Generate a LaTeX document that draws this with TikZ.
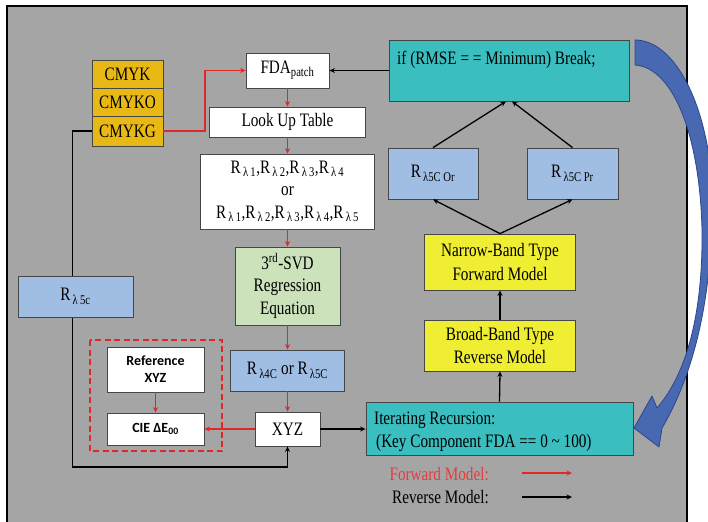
\documentclass[tikz,border=0pt]{standalone}
\usepackage{fontspec}
\setmainfont{Liberation Serif}[FakeStretch=0.8]
\newfontfamily\calib{Carlito}
\usetikzlibrary{arrows.meta,calc}
\definecolor{bggray}{RGB}{165,165,165}
\definecolor{edgegray}{RGB}{70,70,70}
\definecolor{gold}{RGB}{232,185,20}
\definecolor{lgreen}{RGB}{204,226,186}
\definecolor{lblue}{RGB}{160,190,228}
\definecolor{teal2}{RGB}{58,190,192}
\definecolor{yel}{RGB}{240,238,50}
\definecolor{fwdred}{RGB}{225,40,40}
\definecolor{legred}{RGB}{230,60,60}
\definecolor{barrow}{RGB}{72,104,178}
\definecolor{bedge}{RGB}{45,70,140}
\newcommand\Rs[1]{R\textsubscript{\,#1}}
\newcommand\mainsz{\fontsize{19}{22}\selectfont}
\tikzset{
  box/.style={draw=edgegray, line width=0.8pt, inner sep=0pt, align=center, font=\mainsz},
  fwd/.style={draw=fwdred, line width=1.9pt, -{Stealth[length=5.5pt,width=5pt]}},
  rev/.style={draw=black, line width=1.3pt, -{Stealth[length=5.5pt,width=5pt]}},
  sbox/.style={draw=edgegray, line width=0.8pt, fill=white, inner sep=0pt, align=center,
    font=\calib\bfseries\fontsize{14}{17}\selectfont},
}
\begin{document}
\begin{tikzpicture}[x=1pt,y=-1pt]
\useasboundingbox (0,0) rectangle (708,521);
\clip (0,0) rectangle (708,521);
\fill[white] (0,0) rectangle (708,521);
\draw[fill=bggray, line width=1.2pt] (7,6) rectangle (687,540);

% left column
\node[box, fill=gold, minimum width=71pt, minimum height=28pt] (cmyk) at (127.5,74) {CMYK};
\node[box, fill=gold, minimum width=71pt, minimum height=28pt] (cmyko) at (127.5,102) {CMYKO};
\node[box, fill=gold, minimum width=71pt, minimum height=30pt] (cmykg) at (127.5,131) {CMYKG};

% centre column
\node[box, fill=white, minimum width=83pt, minimum height=35pt] (fda) at (287.5,70.5) {FDA\textsubscript{patch}};
\node[box, fill=white, minimum width=156pt, minimum height=30pt] (lut) at (287.5,122) {Look Up Table};
\node[box, fill=white, minimum width=174pt, minimum height=75pt, font=\fontsize{19}{22.5}\selectfont] (rl) at (287.5,191.5)
  {\Rs{λ\,1},\Rs{λ\,2},\Rs{λ\,3},\Rs{λ\,4}\\or\\\Rs{λ\,1},\Rs{λ\,2},\Rs{λ\,3},\Rs{λ\,4},\Rs{λ\,5}};
\node[box, fill=lgreen, minimum width=105pt, minimum height=78pt, font=\fontsize{19}{22.5}\selectfont] (svd) at (287.5,286)
  {3\textsuperscript{rd}-SVD\\Regression\\Equation};
\node[box, fill=lblue, minimum width=114pt, minimum height=41pt] (r4c) at (287.5,370.5) {\Rs{λ4C} or \Rs{λ5C}};
\node[box, fill=white, minimum width=65pt, minimum height=34pt] (xyz) at (287.5,429) {XYZ};

% dashed group
\draw[fwdred, line width=1.5pt, dash pattern=on 6pt off 3.5pt] (90,340) rectangle (222,451);
\node[sbox, minimum width=97pt, minimum height=45pt] (ref) at (155.5,369.5) {Reference\\XYZ};
\node[sbox, minimum width=97pt, minimum height=32pt] (cie) at (155.5,429) {CIE ΔE\textsubscript{00}};

% right column
\node[box, fill=teal2, minimum width=240pt, minimum height=61pt] (ifb) at (509,70.5) {};
\node[anchor=west, inner sep=0pt, font=\mainsz] (iftxt) at (397,60) {if (RMSE = = Minimum) Break;};
\node[box, fill=lblue, minimum width=90pt, minimum height=51pt] (ror) at (433,173.5) {\Rs{λ5C Or}};
\node[box, fill=lblue, minimum width=91pt, minimum height=51pt] (rpr) at (572.5,173.5) {\Rs{λ5C Pr}};
\node[box, fill=yel, minimum width=151pt, minimum height=56pt, font=\fontsize{19}{23}\selectfont] (nb) at (500,262) {Narrow-Band Type\\Forward Model};
\node[box, fill=yel, minimum width=151pt, minimum height=51pt, font=\fontsize{19}{23}\selectfont] (bb) at (500,345.5) {Broad-Band Type\\Reverse Model};
\node[box, fill=teal2, minimum width=267pt, minimum height=53pt] (itr) at (499.5,428.5) {};
\node[anchor=west, inner sep=0pt, align=left, font=\fontsize{19}{23}\selectfont] (itrtxt) at (374,431.5)
  {Iterating Recursion:\\\hspace{2pt}(Key Component FDA == 0 \textasciitilde{} 100)};

% forward (red) connectors
\draw[fwd] (cmykg.east) -- ++(42,0) |- (fda.west);
\draw[fwd] (fda.south) -- (lut.north);
\draw[fwd] (lut.south) -- (rl.north);
\draw[fwd] (rl.south) -- (svd.north);
\draw[fwd] (svd.south) -- (r4c.north);
\draw[fwd] (r4c.south) -- (xyz.north);
\draw[fwd] (xyz.west) -- (cie.east);
\draw[fwd] (ref.south) -- (cie.north);

% reverse (black) connectors
\draw[rev] (ifb.west |- fda.east) -- (fda.east);
\draw[rev] (cmykg.west) -- ++(-19,0) -- ++(0,336) -| (xyz.south);
\node[box, fill=lblue, minimum width=115pt, minimum height=41pt] (r5c) at (75.5,296.5) {\Rs{λ\,5c}};
\draw[rev] (xyz.east) -- (xyz.east -| itr.west);
\draw[rev] (itr.north) -- (bb.south);
\draw[rev] (bb.north) -- (nb.south);
\draw[rev] (nb.north) -- (ror.south);
\draw[rev] (nb.north) -- (rpr.south);
\draw[rev] (ror.north) -- ($(ifb.south)+(-3,0)$);
\draw[rev] (rpr.north) -- ($(ifb.south)+(3,0)$);

% legend
\node[anchor=east, inner sep=0pt, text=legred, font=\mainsz] (lf) at (489,474) {Forward Model:};
\node[anchor=east, inner sep=0pt, font=\mainsz] (lr) at (489,497) {Reverse Model:};
\coordinate (fa) at (522,473);
\coordinate (fb) at (572,473);
\coordinate (ra) at (522,497);
\coordinate (rb) at (572,497);
\draw[fwd] (fa) -- (fb);
\draw[rev] (ra) -- (rb);

% big curved blue arrow
\filldraw[fill=barrow, draw=bedge, line width=0.8pt, line join=round]
  (635,40) .. controls (668,40) and (697,85) .. (708,150)
  .. controls (718,240) and (708,350) .. (662,428)
  -- (659,447) -- (634,428) -- (652,396) -- (657,408)
  .. controls (688,372) and (703,310) .. (702,230)
  .. controls (700,140) and (675,68) .. (635,65) -- cycle;
\end{tikzpicture}
\end{document}
